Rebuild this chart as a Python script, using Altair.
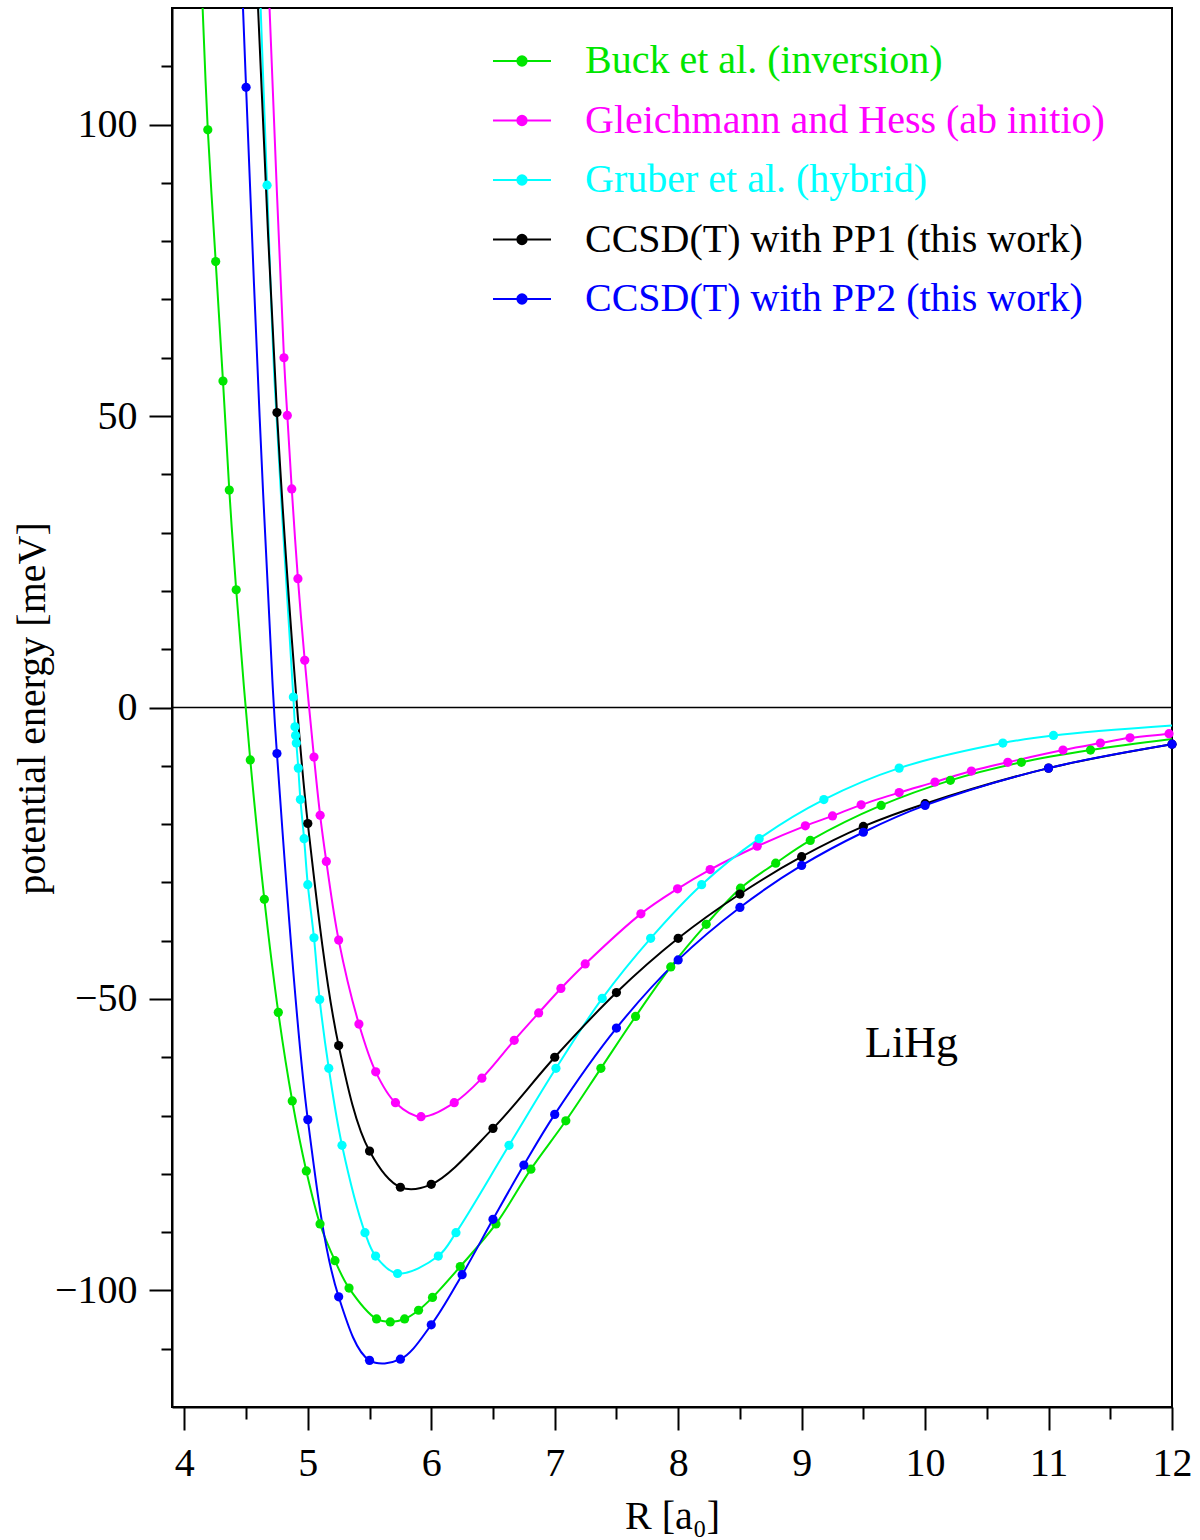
import altair as alt
import pandas as pd

FONT = "Liberation Serif"

series_names = [
    "Buck et al. (inversion)",
    "Gleichmann and Hess (ab initio)",
    "Gruber et al. (hybrid)",
    "CCSD(T) with PP1 (this work)",
    "CCSD(T) with PP2 (this work)",
]
series_colors = ["#00e600", "#ff00ff", "#00ffff", "#000000", "#0000ff"]

# ---- data points (dots): R [a0], E [meV] ----
buck_R = [4.19, 4.254, 4.313, 4.364, 4.42, 4.534, 4.648, 4.761, 4.874, 4.988, 5.099, 5.22,
          5.334, 5.557, 5.668, 5.784, 5.897, 6.01, 6.235, 6.524, 6.807, 7.09, 7.374, 7.655,
          7.94, 8.227, 8.505, 8.79, 9.07, 9.644, 10.205, 10.78, 11.34]
buck_E = [99.1, 76.5, 56.0, 37.3, 20.2, -9.0, -32.9, -52.3, -67.5, -79.5, -88.6, -94.9,
          -99.6, -104.9, -105.4, -104.9, -103.4, -101.2, -95.9, -88.6, -79.2, -70.9, -61.9, -53.0,
          -44.5, -37.2, -31.0, -26.7, -22.8, -16.8, -12.5, -9.4, -7.3]

gleich_R = [4.807, 4.834, 4.87, 4.92, 4.975, 5.05, 5.10, 5.15, 5.25, 5.414, 5.55, 5.71, 5.917,
            6.186, 6.41, 6.672, 6.87, 7.05, 7.247, 7.698, 7.995, 8.259, 8.64, 9.03, 9.25, 9.482,
            9.79, 10.08, 10.375, 10.67, 11.117, 11.42, 11.66, 11.976]
gleich_E = [60.0, 50.1, 37.5, 22.1, 8.1, -8.5, -18.5, -26.4, -39.9, -54.3, -62.5, -67.8, -70.2,
            -67.8, -63.6, -57.1, -52.4, -48.2, -44.0, -35.4, -31.1, -27.8, -23.8, -20.3, -18.6, -16.7,
            -14.6, -12.8, -10.9, -9.4, -7.3, -6.1, -5.2, -4.5]

gruber_R = [4.67, 4.883, 4.896, 4.901, 4.907, 4.923, 4.94, 4.97, 5.0, 5.05, 5.096, 5.17, 5.277,
            5.463, 5.549, 5.727, 6.057, 6.20, 6.63, 7.01, 7.385, 7.777, 8.19, 8.656, 9.18, 9.79,
            10.63, 11.04]
gruber_E = [89.6, 1.8, -3.3, -4.8, -6.1, -10.4, -15.8, -22.5, -30.4, -39.5, -50.1, -61.9, -75.1,
            -90.1, -94.1, -97.1, -94.1, -90.1, -75.1, -61.9, -49.9, -39.6, -30.4, -22.5, -15.8, -10.4,
            -6.1, -4.8]

pp1_R = [4.75, 5.0, 5.25, 5.5, 5.75, 6.0, 6.5, 7.0, 7.5, 8.0, 8.5, 9.0, 9.5, 10.0, 11.0, 12.0]
pp1_E = [50.6, -19.9, -58.0, -76.1, -82.3, -81.8, -72.2, -60.0, -48.9, -39.6, -32.0, -25.6,
         -20.4, -16.5, -10.4, -6.3]

pp2_R = [4.5, 4.75, 5.0, 5.25, 5.5, 5.75, 6.0, 6.25, 6.5, 6.75, 7.0, 7.5, 8.0, 8.5, 9.0, 9.5,
         10.0, 11.0, 12.0]
pp2_E = [106.4, -7.9, -70.7, -101.1, -112.0, -111.8, -105.9, -97.3, -87.8, -78.5, -69.8, -55.0,
         -43.3, -34.3, -27.1, -21.4, -16.8, -10.4, -6.3]

# ---- extra curve points read where the fitted curves leave the frame / between sparse dots ----
buck_curve_R = [4.148, 12.0]
buck_curve_E = [120.0, -5.4]
gleich_curve_R = [4.69, 12.0]
gleich_curve_E = [120.0, -4.4]
gruber_curve_R = [4.618, 4.73, 12.0]
gruber_curve_E = [120.0, 56.2, -3.1]
pp1_curve_R = [4.597, 4.896]
pp1_curve_E = [120.0, 4.7]
pp2_curve_R = [4.475, 4.61, 4.713]
pp2_curve_E = [120.0, 49.8, 4.7]

# axis ticks
x_major = [4, 5, 6, 7, 8, 9, 10, 11, 12]
x_minor = [4.5, 5.5, 6.5, 7.5, 8.5, 9.5, 10.5, 11.5]
y_major = [-100, -50, 0, 50, 100]
y_minor = [-110, -90, -80, -70, -60, -40, -30, -20, -10, 10, 20, 30, 40, 60, 70, 80, 90, 110]
x_domain = [3.9, 12.0]
y_domain = [-120.0, 120.0]

label_text = ["LiHg"]
label_R = [9.89]
label_E = [-60.0]

zero_E = [0.0]

# ---- build tables ----
dots = [(buck_R, buck_E), (gleich_R, gleich_E), (gruber_R, gruber_E), (pp1_R, pp1_E), (pp2_R, pp2_E)]
extras = [(buck_curve_R, buck_curve_E), (gleich_curve_R, gleich_curve_E),
          (gruber_curve_R, gruber_curve_E), (pp1_curve_R, pp1_curve_E), (pp2_curve_R, pp2_curve_E)]

dot_rows, line_rows = [], []
for name, (rs, es), (xr, xe) in zip(series_names, dots, extras):
    for r, e in zip(rs, es):
        dot_rows.append({"series": name, "R": r, "E": e})
    pts = sorted(list(zip(rs, es)) + list(zip(xr, xe)))
    for i, (r, e) in enumerate(pts):
        line_rows.append({"series": name, "R": r, "E": e, "order": i})
dots_df = pd.DataFrame(dot_rows)
lines_df = pd.DataFrame(line_rows)
label_df = pd.DataFrame({"text": label_text, "R": label_R, "E": label_E})
zero_df = pd.DataFrame({"E": zero_E})

x_scale = alt.Scale(domain=x_domain, nice=False, zero=False)
y_scale = alt.Scale(domain=y_domain, nice=False, zero=False)
color_scale = alt.Scale(domain=series_names, range=series_colors)

legend_symbol = ("M-1,0L1,0M-0.16,0A0.16,0.16,0,1,1,0.16,0"
                 "A0.16,0.16,0,1,1,-0.16,0Z")
color_expr = ""
for n, c in zip(series_names, series_colors):
    color_expr += f"datum.value === '{n}' ? '{c}' : "
color_expr += "'black'"

legend = alt.Legend(
    orient="none", legendX=320, legendY=23, title=None,
    symbolType=legend_symbol, symbolSize=3364, symbolStrokeWidth=2,
    symbolFillColor=alt.ExprRef(color_expr), symbolStrokeColor=alt.ExprRef(color_expr),
    symbolOpacity=1,
    labelColor=alt.ExprRef(color_expr),
    labelFont=FONT, labelFontSize=40, labelLimit=800, labelOffset=33,
    rowPadding=9.5, padding=0,
)

axis_common = dict(grid=False, tickWidth=2, tickColor="black", domainColor="black", domainWidth=2,
                   labelFont=FONT, labelFontSize=40, labelColor="black",
                   titleFont=FONT, titleFontSize=40, titleFontWeight="normal", titleColor="black")

x_major_axis = alt.Axis(values=x_major, orient="bottom", tickSize=23, labelPadding=13, format="d",
                        labelFlush=False, title="R [a\u2080]", titleX=500, titleY=121,
                        titleBaseline="alphabetic", titleAlign="center", **axis_common)
y_major_axis = alt.Axis(values=y_major, orient="left", tickSize=23, labelPadding=12, format="d",
                        title="potential energy [meV]", titleX=-140, titleY=700, titleAngle=270,
                        titleAlign="center", titleBaseline="middle", **axis_common)
x_minor_axis = alt.Axis(values=x_minor, orient="bottom", tickSize=12, labels=False, domain=False,
                        title=None, grid=False, tickWidth=2, tickColor="black")
y_minor_axis = alt.Axis(values=y_minor, orient="left", tickSize=11, labels=False, domain=False,
                        title=None, grid=False, tickWidth=2, tickColor="black")

zero_rule = alt.Chart(zero_df).mark_rule(color="black", strokeWidth=1.5).encode(
    y=alt.Y("E:Q", scale=y_scale, axis=None)
)

lines = alt.Chart(lines_df).mark_line(strokeWidth=2, interpolate="catmull-rom", clip=True).encode(
    x=alt.X("R:Q", scale=x_scale, axis=x_major_axis),
    y=alt.Y("E:Q", scale=y_scale, axis=y_major_axis),
    color=alt.Color("series:N", scale=color_scale, legend=legend, sort=series_names),
    detail="series:N",
    order="order:Q",
)

points = alt.Chart(dots_df).mark_circle(size=85, opacity=1).encode(
    x=alt.X("R:Q", scale=x_scale, axis=x_minor_axis),
    y=alt.Y("E:Q", scale=y_scale, axis=y_minor_axis),
    color=alt.Color("series:N", scale=color_scale, legend=None),
)

label = alt.Chart(label_df).mark_text(font=FONT, fontSize=44, color="black", align="center",
                                      baseline="alphabetic").encode(
    x=alt.X("R:Q", scale=x_scale, axis=None),
    y=alt.Y("E:Q", scale=y_scale, axis=None),
    text="text:N",
)

chart = alt.layer(zero_rule, lines, points, label).resolve_axis(
    x="independent", y="independent"
).properties(
    width=1000, height=1399,
    autosize=alt.AutoSizeParams(type="none"),
    padding={"left": 172, "top": 8, "right": 28, "bottom": 133},
    background="white",
).configure_view(stroke="black", strokeWidth=2)

chart.save("out.html", embed_options={"renderer": "svg", "actions": False})
